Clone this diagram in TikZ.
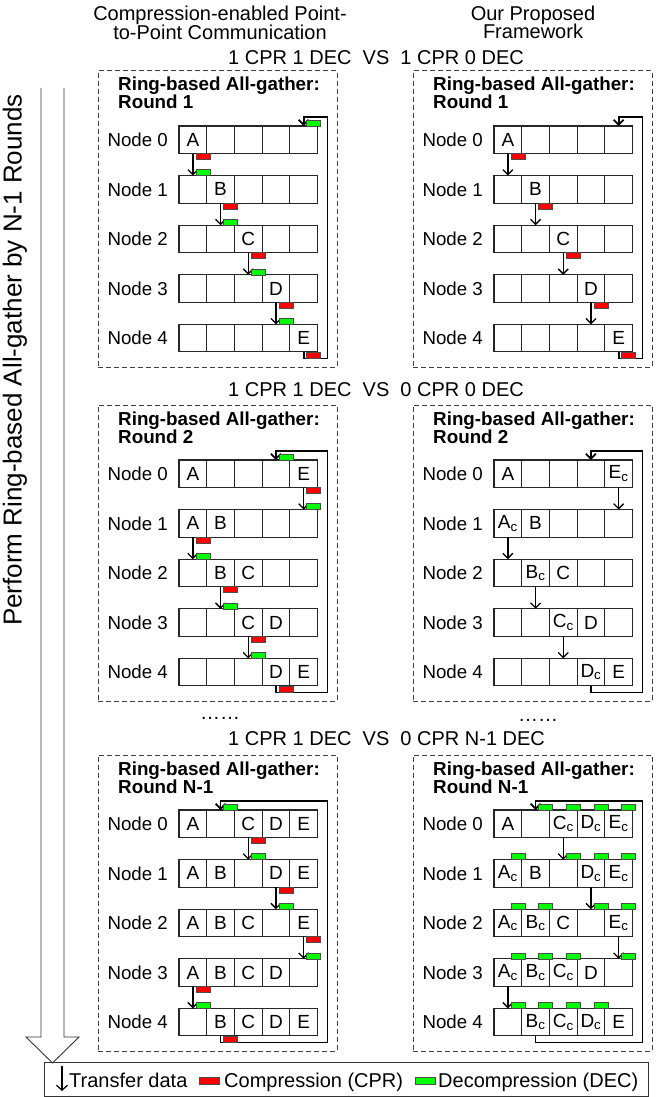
\documentclass[tikz,border=0pt]{standalone}
\usepackage{fontspec}
\setmainfont{Liberation Sans}
\usetikzlibrary{arrows.meta,calc}
\tikzset{
  cellbox/.style={draw=black!85, line width=1.1pt, anchor=north west, minimum width=27.7pt, minimum height=27.5pt, inner sep=0pt, outer sep=0pt, font=\fontsize{19}{22}\selectfont},
  lbl/.style={anchor=east, inner sep=0pt, font=\fontsize{18.7}{22}\selectfont},
  ttl/.style={anchor=base west, inner sep=0pt, font=\bfseries\fontsize{18.8}{22}\selectfont},
  hdr/.style={inner sep=0pt, font=\fontsize{20}{24}\selectfont},
  panelbox/.style={draw=black!75, dash pattern=on 5pt off 3pt, line width=1pt, anchor=north west, minimum width=239pt, minimum height=296pt, inner sep=0pt, outer sep=0pt},
  arr/.style={line width=1.3pt, -{Straight Barb[length=5pt,width=10pt]}},
  wraparr/.style={line width=1.8pt, -{Straight Barb[length=5pt,width=10pt]}},
  cprbox/.style={fill=red, draw=black!70, line width=0.6pt, minimum width=14pt, minimum height=6pt, inner sep=0pt, outer sep=0pt},
  decbox/.style={fill=green, draw=black!70, line width=0.6pt, minimum width=14pt, minimum height=6pt, inner sep=0pt, outer sep=0pt},
  legcpr/.style={fill=red, draw=black!70, line width=0.6pt, minimum width=20pt, minimum height=7pt, inner sep=0pt, outer sep=0pt},
  legdec/.style={fill=green, draw=black!70, line width=0.6pt, minimum width=20pt, minimum height=7pt, inner sep=0pt, outer sep=0pt},
  legarr/.style={line width=1.2pt, -{Straight Barb[length=5pt,width=11pt]}},
  bigarrow/.style={draw=black!80, line width=0.9pt, line join=miter},
}
\newcommand\cs[1]{#1\textsubscript{c}}
\newcommand\cellrow[9]{%
  \node[cellbox] (#1c0) at (#2,#3) {#5};
  \node[cellbox] (#1c1) at (#1c0.north east) {#6};
  \node[cellbox] (#1c2) at (#1c1.north east) {#7};
  \node[cellbox] (#1c3) at (#1c2.north east) {#8};
  \node[cellbox] (#1c4) at (#1c3.north east) {#9};
  \node[lbl] (#1lab) at ($(#1c0.west)+(-11,0)$) {Node #4};
}
\newcommand\panel[4]{%
  \node[panelbox] (#1box) at (#2,#3) {};
  \node[ttl] (#1t1) at ($(#2,#3)+(20,20)$) {Ring-based All-gather:};
  \node[ttl] (#1t2) at ($(#2,#3)+(20,38)$) {Round #4};
}
\newcommand\cprat[1]{\node[cprbox, anchor=north west] (#1cpr) at ($(#1.south)+(3,0)$) {};}
\newcommand\decat[1]{\node[decbox, anchor=south west] (#1dec) at ($(#1.north)+(3,0)$) {};}
\newcommand\xferN[2]{\draw[arr] (#1.south) -- (#2.north);}
\newcommand\xferR[2]{\xferN{#1}{#2}\cprat{#1}}
\newcommand\xferRG[2]{\xferN{#1}{#2}\cprat{#1}\decat{#2}}
\newcommand\wrapline[3]{\draw[wraparr] (#1r4c#2.south) -- ++(0,6.5) -| ($(#1r0c4.north east)+(10,-9)$) -| (#1r0c#3.north);}

\begin{document}
\begin{tikzpicture}[x=1pt,y=-1pt]
\useasboundingbox (0,0) rectangle (667,1097);

% headers
\node[hdr, anchor=base] (h1a) at (220,21) {Compression-enabled Point-};
\node[hdr, anchor=base] (h1b) at (220,40) {to-Point Communication};
\node[hdr, anchor=base] (h2a) at (533,21) {Our Proposed};
\node[hdr, anchor=base] (h2b) at (533,39) {Framework};
\node[hdr, anchor=base west] (vs1) at (228,65) {1 CPR 1 DEC~~VS~~1 CPR 0 DEC};
\node[hdr, anchor=base west] (vs2) at (228,396) {1 CPR 1 DEC~~VS~~0 CPR 0 DEC};
\node[hdr, anchor=base west] (vs3) at (228,745) {1 CPR 1 DEC~~VS~~0 CPR N-1 DEC};
\node[hdr, anchor=base] (dots1) at (220,719) {……};
\node[hdr, anchor=base] (dots2) at (538,721) {……};

% side arrow and text
\node[inner sep=0pt, rotate=90, font=\fontsize{26}{30}\selectfont] (side) at (15,360) {Perform Ring-based All-gather by N-1 Rounds};
\draw[bigarrow] (41,88) -- (41,1037) -- (26,1037) -- (52.5,1063) -- (79,1037) -- (64,1037) -- (64,88);

% ===== Round 1 left =====
\panel{L1}{98}{71}{1}
\cellrow{L1r0}{179}{126}{0}{A}{}{}{}{}
\cellrow{L1r1}{179}{175.6}{1}{}{B}{}{}{}
\cellrow{L1r2}{179}{225.2}{2}{}{}{C}{}{}
\cellrow{L1r3}{179}{274.8}{3}{}{}{}{D}{}
\cellrow{L1r4}{179}{324.4}{4}{}{}{}{}{E}
\xferRG{L1r0c0}{L1r1c0}
\xferRG{L1r1c1}{L1r2c1}
\xferRG{L1r2c2}{L1r3c2}
\xferRG{L1r3c3}{L1r4c3}
\wrapline{L1}{4}{4}
\cprat{L1r4c4}\decat{L1r0c4}

% ===== Round 1 right =====
\panel{R1}{413}{71}{1}
\cellrow{R1r0}{494}{126}{0}{A}{}{}{}{}
\cellrow{R1r1}{494}{175.6}{1}{}{B}{}{}{}
\cellrow{R1r2}{494}{225.2}{2}{}{}{C}{}{}
\cellrow{R1r3}{494}{274.8}{3}{}{}{}{D}{}
\cellrow{R1r4}{494}{324.4}{4}{}{}{}{}{E}
\xferR{R1r0c0}{R1r1c0}
\xferR{R1r1c1}{R1r2c1}
\xferR{R1r2c2}{R1r3c2}
\xferR{R1r3c3}{R1r4c3}
\wrapline{R1}{4}{4}
\cprat{R1r4c4}

% ===== Round 2 left =====
\panel{L2}{98}{405}{2}
\cellrow{L2r0}{179}{460}{0}{A}{}{}{}{E}
\cellrow{L2r1}{179}{509.6}{1}{A}{B}{}{}{}
\cellrow{L2r2}{179}{559.2}{2}{}{B}{C}{}{}
\cellrow{L2r3}{179}{608.8}{3}{}{}{C}{D}{}
\cellrow{L2r4}{179}{658.4}{4}{}{}{}{D}{E}
\xferRG{L2r0c4}{L2r1c4}
\xferRG{L2r1c0}{L2r2c0}
\xferRG{L2r2c1}{L2r3c1}
\xferRG{L2r3c2}{L2r4c2}
\wrapline{L2}{3}{3}
\cprat{L2r4c3}\decat{L2r0c3}

% ===== Round 2 right =====
\panel{R2}{413}{405}{2}
\cellrow{R2r0}{494}{460}{0}{A}{}{}{}{\cs{E}}
\cellrow{R2r1}{494}{509.6}{1}{\cs{A}}{B}{}{}{}
\cellrow{R2r2}{494}{559.2}{2}{}{\cs{B}}{C}{}{}
\cellrow{R2r3}{494}{608.8}{3}{}{}{\cs{C}}{D}{}
\cellrow{R2r4}{494}{658.4}{4}{}{}{}{\cs{D}}{E}
\xferN{R2r0c4}{R2r1c4}
\xferN{R2r1c0}{R2r2c0}
\xferN{R2r2c1}{R2r3c1}
\xferN{R2r3c2}{R2r4c2}
\wrapline{R2}{3}{3}

% ===== Round N-1 left =====
\panel{L3}{98}{755}{N-1}
\cellrow{L3r0}{179}{810}{0}{A}{}{C}{D}{E}
\cellrow{L3r1}{179}{859.6}{1}{A}{B}{}{D}{E}
\cellrow{L3r2}{179}{909.2}{2}{A}{B}{C}{}{E}
\cellrow{L3r3}{179}{958.8}{3}{A}{B}{C}{D}{}
\cellrow{L3r4}{179}{1008.4}{4}{}{B}{C}{D}{E}
\xferRG{L3r0c2}{L3r1c2}
\xferRG{L3r1c3}{L3r2c3}
\xferRG{L3r2c4}{L3r3c4}
\xferRG{L3r3c0}{L3r4c0}
\wrapline{L3}{1}{1}
\cprat{L3r4c1}\decat{L3r0c1}

% ===== Round N-1 right =====
\panel{R3}{413}{755}{N-1}
\cellrow{R3r0}{494}{810}{0}{A}{}{\cs{C}}{\cs{D}}{\cs{E}}
\cellrow{R3r1}{494}{859.6}{1}{\cs{A}}{B}{}{\cs{D}}{\cs{E}}
\cellrow{R3r2}{494}{909.2}{2}{\cs{A}}{\cs{B}}{C}{}{\cs{E}}
\cellrow{R3r3}{494}{958.8}{3}{\cs{A}}{\cs{B}}{\cs{C}}{D}{}
\cellrow{R3r4}{494}{1008.4}{4}{}{\cs{B}}{\cs{C}}{\cs{D}}{E}
\xferN{R3r0c2}{R3r1c2}
\xferN{R3r1c3}{R3r2c3}
\xferN{R3r2c4}{R3r3c4}
\xferN{R3r3c0}{R3r4c0}
\wrapline{R3}{1}{1}
\foreach \rr in {0,...,4}{\foreach \cc in {0,...,4}{\ifnum\rr=\cc\else\decat{R3r\rr c\cc}\fi}}

% ===== legend =====
\node[draw=black!80, line width=1pt, minimum width=604pt, minimum height=34pt, anchor=north west, inner sep=0pt, outer sep=0pt] (legbox) at (44,1062) {};
\coordinate (lgA) at (62,1066);
\coordinate (lgB) at (62,1091);
\draw[legarr] (lgA) -- (lgB);
\node[hdr, anchor=base west] (lg1) at (69,1087) {Transfer data};
\node[legcpr, anchor=west] (lg2) at (199,1080.5) {};
\node[hdr, anchor=base west] (lg3) at (224,1087) {Compression (CPR)};
\node[legdec, anchor=west] (lg4) at (415,1080.5) {};
\node[hdr, anchor=base west] (lg5) at (438,1087) {Decompression (DEC)};
\end{tikzpicture}
\end{document}
